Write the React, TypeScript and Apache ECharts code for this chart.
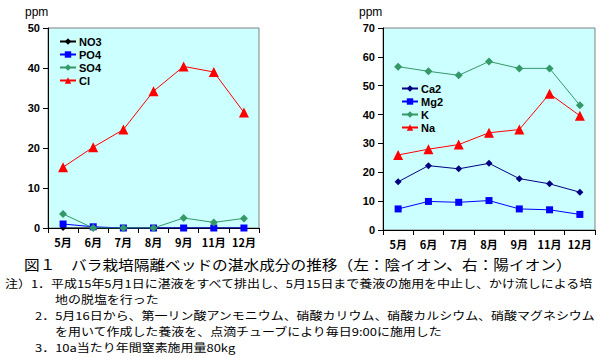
import React, { useEffect, useRef } from "react";
import * as echarts from "echarts";

const months = ["5月", "6月", "7月", "8月", "9月", "11月", "12月"];

// left: anions
const no3 = [0, 0, 0, 0, 0, 0, 0];
const po4 = [1.0, 0.3, 0, 0, 0, 0, 0];
const so4 = [3.5, 0, 0, 0, 2.5, 1.4, 2.4];
const cl = [15.2, 20.2, 24.6, 34.2, 40.4, 39.0, 28.9];

// right: cations
const ca2 = [16.7, 22.3, 21.2, 23.1, 17.8, 16.0, 13.1];
const mg2 = [7.3, 9.9, 9.6, 10.2, 7.3, 7.0, 5.4];
const k = [56.6, 55.0, 53.6, 58.4, 56.0, 56.0, 43.2];
const na = [26.0, 28.0, 29.6, 33.7, 34.8, 47.2, 39.6];

const unitLabel = "ppm";
const title = "図１　バラ栽培隔離ベッドの湛水成分の推移（左：陰イオン、右：陽イオン）";
const notes = [
  "注）1．平成15年5月1日に湛液をすべて排出し、5月15日まで養液の施用を中止し、かけ流しによる培",
  "地の脱塩を行った",
  "2．5月16日から、第一リン酸アンモニウム、硝酸カリウム、硝酸カルシウム、硝酸マグネシウム",
  "を用いて作成した養液を、点滴チューブにより毎日9:00に施用した",
  "3．10a当たり年間窒素施用量80kg",
];

const FONT = "'Liberation Sans', Arial, sans-serif";
const JP = "'Noto Sans CJK JP', sans-serif";

export default function App() {
  const ref = useRef<HTMLDivElement>(null);
  useEffect(() => {
    if (!ref.current) return;
    const chart = echarts.init(ref.current, null, { renderer: "svg" });

    const mkLine = (
      name: string,
      data: number[],
      color: string,
      symbol: string,
      size: number,
      xi: number
    ) => ({
      name,
      type: "line",
      xAxisIndex: xi,
      yAxisIndex: xi,
      data,
      symbol,
      symbolSize: size,
      itemStyle: { color },
      lineStyle: { color, width: 1 },
      emphasis: { disabled: true },
    });

    const xAxisBase = (gi: number) => ({
      type: "category",
      gridIndex: gi,
      data: months,
      boundaryGap: true,
      axisLine: { lineStyle: { color: "#000", width: 1 } },
      axisTick: { show: true, length: 5, interval: 0, lineStyle: { color: "#000" } },
      axisLabel: {
        color: "#000",
        fontWeight: "bold",
        fontSize: 11,
        fontFamily: JP,
        margin: 8,
        interval: 0,
      },
    });
    const yAxisBase = (gi: number, max: number) => ({
      type: "value",
      gridIndex: gi,
      min: 0,
      max,
      interval: 10,
      splitLine: { show: false },
      axisLine: { show: true, lineStyle: { color: "#000", width: 1 } },
      axisTick: { show: true, length: 5, lineStyle: { color: "#000" } },
      axisLabel: {
        color: "#000",
        fontWeight: "bold",
        fontSize: 11,
        fontFamily: FONT,
        margin: 8,
      },
    });

    const legendBase = {
      orient: "vertical",
      itemWidth: 16,
      itemHeight: 8,
      itemGap: 2,
      textStyle: {
        color: "#000",
        fontWeight: "bold",
        fontSize: 11,
        fontFamily: FONT,
        padding: [0, 0, 0, -2],
      },
      padding: 0,
    };

    const txt = (text: string, x: number, y: number, size: number, sx: number) => ({
      type: "text",
      x,
      y,
      scaleX: sx,
      style: {
        text,
        fontSize: size,
        lineHeight: size + 1,
        fontFamily: JP,
        fill: "#000",
        align: "left",
        verticalAlign: "middle",
      },
    });

    chart.setOption({
      animation: false,
      backgroundColor: "#fff",
      grid: [
        {
          left: 48,
          top: 28,
          width: 211,
          height: 200,
          show: true,
          backgroundColor: "#ccffff",
          borderColor: "#808080",
          borderWidth: 1,
        },
        {
          left: 383,
          top: 28,
          width: 212,
          height: 202,
          show: true,
          backgroundColor: "#ccffff",
          borderColor: "#808080",
          borderWidth: 1,
        },
      ],
      xAxis: [xAxisBase(0), xAxisBase(1)],
      yAxis: [yAxisBase(0, 50), yAxisBase(1, 70)],
      legend: [
        {
          ...legendBase,
          left: 59,
          top: 36,
          data: ["NO3", "PO4", "SO4", "Cl"],
        },
        {
          ...legendBase,
          left: 401,
          top: 83,
          data: ["Ca2", "Mg2", "K", "Na"],
        },
      ],
      series: [
        mkLine("NO3", no3, "#000000", "diamond", 6, 0),
        mkLine("PO4", po4, "#0000ff", "rect", 7, 0),
        mkLine("SO4", so4, "#339966", "diamond", 8, 0),
        mkLine("Cl", cl, "#ff0000", "triangle", 10, 0),
        mkLine("Ca2", ca2, "#000080", "diamond", 7, 1),
        mkLine("Mg2", mg2, "#0000ff", "rect", 7, 1),
        mkLine("K", k, "#339966", "diamond", 8, 1),
        mkLine("Na", na, "#ff0000", "triangle", 10, 1),
      ],
      graphic: [
        {
          type: "text",
          left: 25,
          top: 6,
          style: { text: unitLabel, fontSize: 12, fontFamily: FONT, fill: "#000" },
        },
        {
          type: "text",
          left: 359,
          top: 6,
          style: { text: unitLabel, fontSize: 12, fontFamily: FONT, fill: "#000" },
        },
        txt(title, 24, 264, 14, 1.12),
        txt(notes[0], 5, 283, 11, 1.18),
        txt(notes[1], 55, 299, 11, 1.18),
        txt(notes[2], 35, 315, 11, 1.18),
        txt(notes[3], 55, 331, 11, 1.18),
        txt(notes[4], 35, 347, 11, 1.18),
      ],
    });
    return () => chart.dispose();
  }, []);
  return (
    <div
      ref={ref}
      style={{ position: "fixed", left: 0, top: 0, width: 604, height: 358, background: "#fff" }}
    />
  );
}
